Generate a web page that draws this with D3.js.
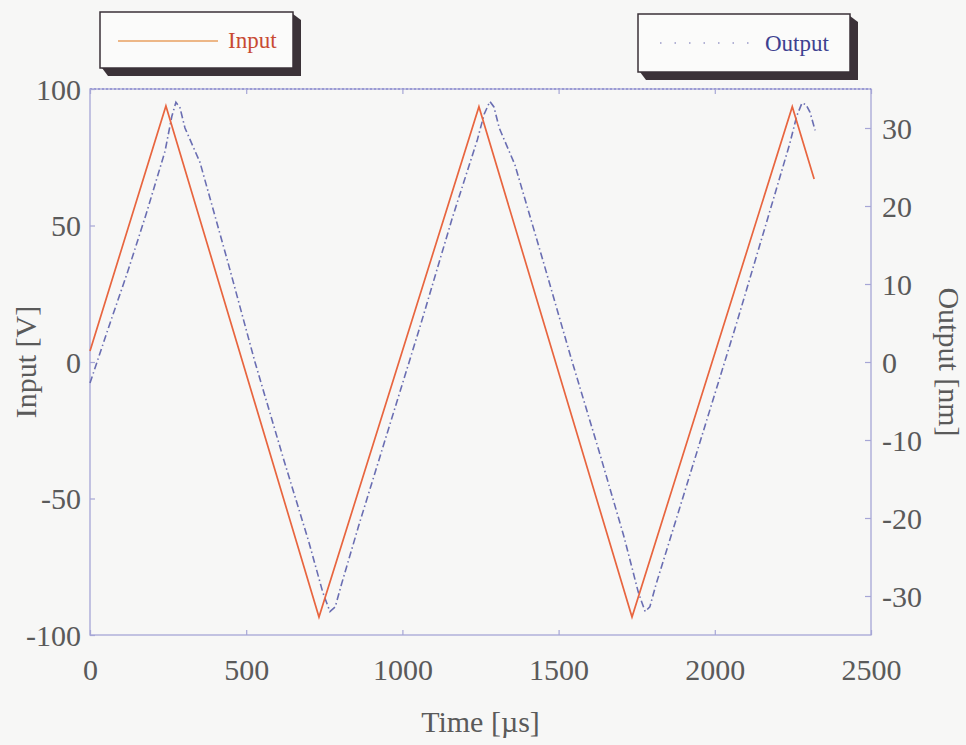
<!DOCTYPE html>
<html>
<head>
<meta charset="utf-8">
<script src="https://cdn.jsdelivr.net/npm/d3@7"></script>
<style>
  html, body { margin: 0; padding: 0; background: #f7f7f6; }
  svg { display: block; }
  text { font-family: "Liberation Serif", "DejaVu Serif", serif; fill: #5a5a5a; }
</style>
</head>
<body>
<svg id="chart" width="966" height="745"></svg>
<script>
// Time ticks [µs]
const timeTicks = [0, 500, 1000, 1500, 2000, 2500];
const inputTicks = [100, 50, 0, -50, -100];
const outputTicks = [30, 20, 10, 0, -10, -20, -30];

// Input voltage triangle: time [µs], voltage [V]
const inputTime = [0, 243, 733, 1245, 1735, 2248, 2318];
const inputVolt = [4, 93.8, -93.4, 93.5, -93.4, 93.5, 67];

// Measured output displacement: time [µs], displacement [nm]
const outputTime = [0, 60, 120, 180, 240, 262, 275, 288, 304, 352, 440, 528, 620, 700, 745, 768, 785, 805, 860, 960, 1060, 1160, 1240, 1262, 1280, 1293, 1310, 1360, 1450, 1540, 1630, 1710, 1755, 1777, 1792, 1812, 1870, 1970, 2070, 2170, 2240, 2262, 2279, 2292, 2305, 2321];
const outputNm = [-2.7, 4.5, 11.5, 19, 27, 31.5, 33.3, 32.6, 30, 25.6, 13, 0, -12.5, -23, -29.5, -32, -31.4, -28.5, -21, -8, 5, 18.5, 28.5, 31.8, 33.4, 32.7, 30, 25.3, 13, 0.5, -11.5, -22.5, -29.5, -32, -31.4, -28.5, -21, -8, 5, 18.5, 28, 31.5, 33.2, 33, 32, 29.7];

const svg = d3.select("#chart");
const L = 90, R = 871, T = 89, B = 635;

const x = d3.scaleLinear().domain([0, 2500]).range([L, R]);
const yIn = d3.scaleLinear().domain([-100, 100]).range([B, T]);
const yOut = d3.scaleLinear().domain([-35, 35]).range([B, T]);

const frameColor = "#a6a6d6";
const plain = d => String(d);

// plot frame
svg.append("rect")
  .attr("x", L).attr("y", T).attr("width", R - L).attr("height", B - T)
  .attr("fill", "none").attr("stroke", frameColor).attr("stroke-width", 1.3);
svg.append("line")
  .attr("x1", L).attr("x2", R).attr("y1", T).attr("y2", T)
  .attr("stroke", "#8f8fcf").attr("stroke-width", 1.3).attr("stroke-dasharray", "2,2");

// axes with inward ticks
const fontSize = 30;
const bottomAxis = svg.append("g").attr("transform", `translate(0,${B})`)
  .call(d3.axisBottom(x).tickValues(timeTicks).tickSize(-5).tickPadding(24).tickFormat(plain));
const topAxis = svg.append("g").attr("transform", `translate(0,${T})`)
  .call(d3.axisTop(x).tickValues(timeTicks).tickSize(-5).tickFormat(""));
const leftAxis = svg.append("g").attr("transform", `translate(${L},0)`)
  .call(d3.axisLeft(yIn).tickValues(inputTicks).tickSize(-5).tickPadding(9).tickFormat(plain));
const rightAxis = svg.append("g").attr("transform", `translate(${R},0)`)
  .call(d3.axisRight(yOut).tickValues(outputTicks).tickSize(-6).tickPadding(11).tickFormat(plain));

[bottomAxis, topAxis, leftAxis, rightAxis].forEach(g => {
  g.select(".domain").remove();
  g.selectAll(".tick line").attr("stroke", frameColor).attr("stroke-width", 1.2);
  g.selectAll(".tick text").attr("font-size", fontSize).attr("fill", "#5a5a5a")
    .attr("font-family", "Liberation Serif, DejaVu Serif, serif");
});
leftAxis.selectAll(".tick text").attr("dy", "0.34em");
rightAxis.selectAll(".tick text").attr("dy", "0.34em");
bottomAxis.selectAll(".tick text").attr("dy", "0.71em");

// axis titles
svg.append("text")
  .attr("x", (L + R) / 2).attr("y", 732)
  .attr("text-anchor", "middle").attr("font-size", 30)
  .text("Time [µs]");
svg.append("text")
  .attr("transform", `translate(36,${(T + B) / 2}) rotate(-90)`)
  .attr("text-anchor", "middle").attr("font-size", 30)
  .text("Input [V]");
svg.append("text")
  .attr("transform", `translate(939,${(T + B) / 2}) rotate(90)`)
  .attr("text-anchor", "middle").attr("font-size", 30)
  .text("Output [nm]");

// data lines
const inputData = inputTime.map((t, i) => [t, inputVolt[i]]);
const outputData = outputTime.map((t, i) => [t, outputNm[i]]);

svg.append("path").datum(outputData)
  .attr("fill", "none").attr("stroke", "#6a6eb2").attr("stroke-width", 1.6)
  .attr("stroke-dasharray", "7,3,1.5,3")
  .attr("d", d3.line().x(d => x(d[0])).y(d => yOut(d[1])));

svg.append("path").datum(inputData)
  .attr("fill", "none").attr("stroke", "#e8653f").attr("stroke-width", 1.7)
  .attr("d", d3.line().x(d => x(d[0])).y(d => yIn(d[1])));

// legend boxes with extruded shadow
function legendBox(x0, y0, w, h, draw) {
  const d = 8;
  svg.append("path")
    .attr("d", `M${x0 + 2},${y0 + h} L${x0 + d},${y0 + h + d} L${x0 + w + d},${y0 + h + d} L${x0 + w + d},${y0 + d} L${x0 + w},${y0 + 2} Z`)
    .attr("fill", "#3b3238");
  svg.append("rect")
    .attr("x", x0).attr("y", y0).attr("width", w).attr("height", h)
    .attr("fill", "#fbfbfa").attr("stroke", "#3b3238").attr("stroke-width", 1.5);
  draw(x0, y0, w, h);
}

legendBox(100, 12, 193, 56, () => {
  svg.append("line").attr("x1", 118).attr("x2", 218).attr("y1", 41).attr("y2", 41)
    .attr("stroke", "#e8a060").attr("stroke-width", 1.3);
  svg.append("text").attr("x", 228).attr("y", 48).attr("font-size", 23)
    .style("fill", "#c84a32").text("Input");
});
legendBox(638, 14, 212, 58, () => {
  svg.append("line").attr("x1", 660).attr("x2", 755).attr("y1", 43).attr("y2", 43)
    .attr("stroke", "#9a9ac8").attr("stroke-width", 1.3).attr("stroke-dasharray", "1.5,13");
  svg.append("text").attr("x", 765).attr("y", 51).attr("font-size", 23)
    .style("fill", "#3d4190").text("Output");
});
</script>
</body>
</html>
